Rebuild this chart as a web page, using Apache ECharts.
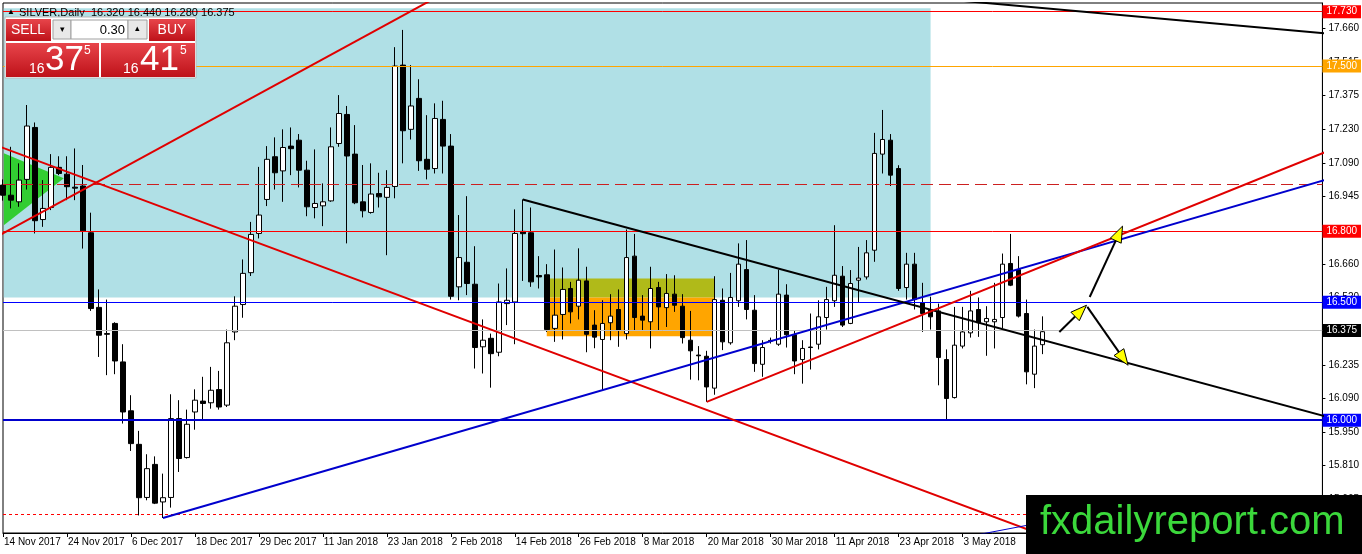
<!DOCTYPE html>
<html>
<head>
<meta charset="utf-8">
<title>SILVER,Daily</title>
<script src="https://cdn.jsdelivr.net/npm/echarts@6/dist/echarts.min.js"></script>
<style>
html,body{margin:0;padding:0;background:#fff;}
#chart{width:1362px;height:554px;}
</style>
</head>
<body>
<div id="chart"></div>
<script>
// daily bars (no 25 Dec / 1 Jan bars)
var dates = [
  '14 Nov 2017','15 Nov 2017','16 Nov 2017','17 Nov 2017','20 Nov 2017','21 Nov 2017','22 Nov 2017','23 Nov 2017','24 Nov 2017','27 Nov 2017','28 Nov 2017','29 Nov 2017','30 Nov 2017',
  '1 Dec 2017','4 Dec 2017','5 Dec 2017','6 Dec 2017','7 Dec 2017','8 Dec 2017','11 Dec 2017','12 Dec 2017','13 Dec 2017','14 Dec 2017','15 Dec 2017','18 Dec 2017','19 Dec 2017','20 Dec 2017','21 Dec 2017','22 Dec 2017','26 Dec 2017','27 Dec 2017','28 Dec 2017','29 Dec 2017',
  '2 Jan 2018','3 Jan 2018','4 Jan 2018','5 Jan 2018','8 Jan 2018','9 Jan 2018','10 Jan 2018','11 Jan 2018','12 Jan 2018','15 Jan 2018','16 Jan 2018','17 Jan 2018','18 Jan 2018','19 Jan 2018','22 Jan 2018','23 Jan 2018','24 Jan 2018','25 Jan 2018','26 Jan 2018','29 Jan 2018','30 Jan 2018','31 Jan 2018',
  '1 Feb 2018','2 Feb 2018','5 Feb 2018','6 Feb 2018','7 Feb 2018','8 Feb 2018','9 Feb 2018','12 Feb 2018','13 Feb 2018','14 Feb 2018','15 Feb 2018','16 Feb 2018','19 Feb 2018','20 Feb 2018','21 Feb 2018','22 Feb 2018','23 Feb 2018','26 Feb 2018','27 Feb 2018','28 Feb 2018',
  '1 Mar 2018','2 Mar 2018','5 Mar 2018','6 Mar 2018','7 Mar 2018','8 Mar 2018','9 Mar 2018','12 Mar 2018','13 Mar 2018','14 Mar 2018','15 Mar 2018','16 Mar 2018','19 Mar 2018','20 Mar 2018','21 Mar 2018','22 Mar 2018','23 Mar 2018','26 Mar 2018','27 Mar 2018','28 Mar 2018','29 Mar 2018','30 Mar 2018',
  '2 Apr 2018','3 Apr 2018','4 Apr 2018','5 Apr 2018','6 Apr 2018','9 Apr 2018','10 Apr 2018','11 Apr 2018','12 Apr 2018','13 Apr 2018','16 Apr 2018','17 Apr 2018','18 Apr 2018','19 Apr 2018','20 Apr 2018','23 Apr 2018','24 Apr 2018','25 Apr 2018','26 Apr 2018','27 Apr 2018','30 Apr 2018',
  '1 May 2018','2 May 2018','3 May 2018','4 May 2018','7 May 2018','8 May 2018','9 May 2018','10 May 2018','11 May 2018','14 May 2018','15 May 2018','16 May 2018','17 May 2018'
];
// empty chart shift on the right
var shiftDates = [
  '18 May 2018','21 May 2018','22 May 2018','23 May 2018','24 May 2018','25 May 2018','28 May 2018','29 May 2018','30 May 2018','31 May 2018',
  '1 Jun 2018','4 Jun 2018','5 Jun 2018','6 Jun 2018','7 Jun 2018','8 Jun 2018','11 Jun 2018','12 Jun 2018','13 Jun 2018','14 Jun 2018','15 Jun 2018',
  '18 Jun 2018','19 Jun 2018','20 Jun 2018','21 Jun 2018','22 Jun 2018','25 Jun 2018','26 Jun 2018','27 Jun 2018','28 Jun 2018','29 Jun 2018',
  '2 Jul 2018','3 Jul 2018','4 Jul 2018','5 Jul 2018'
];
// open, high, low, close
var bars = [
  [16.996,17.020,16.930,16.953],[16.953,17.158,16.897,16.932],[16.925,17.088,16.904,17.017],[17.020,17.335,16.977,17.246],
  [17.240,17.261,16.791,16.845],[16.850,17.017,16.819,16.897],[16.901,17.127,16.890,17.071],[17.071,17.118,17.038,17.045],
  [17.042,17.118,16.932,16.989],[16.987,17.151,16.932,16.983],[16.992,17.081,16.727,16.802],[16.794,16.879,16.463,16.473],
  [16.478,16.554,16.268,16.360],[16.367,16.511,16.191,16.364],[16.410,16.415,16.195,16.251],[16.247,16.322,15.986,16.035],
  [16.040,16.106,15.870,15.901],[15.898,15.955,15.597,15.672],[15.673,15.856,15.661,15.795],[15.813,15.847,15.645,15.649],
  [15.654,15.774,15.586,15.672],[15.673,16.110,15.630,16.007],[16.007,16.085,15.781,15.838],[15.842,16.045,15.838,15.983],
  [16.035,16.131,15.960,16.085],[16.081,16.184,16.000,16.071],[16.074,16.226,16.049,16.127],[16.130,16.209,16.045,16.056],
  [16.064,16.384,16.056,16.328],[16.374,16.525,16.339,16.483],[16.490,16.681,16.434,16.622],[16.625,16.840,16.611,16.787],
  [16.791,17.073,16.770,16.869],[16.935,17.161,16.907,17.105],[17.116,17.198,16.977,17.048],[17.056,17.232,16.925,17.155],
  [17.161,17.240,17.038,17.150],[17.186,17.212,16.986,17.059],[17.059,17.099,16.864,16.904],[16.901,17.147,16.855,16.918],
  [16.908,17.003,16.822,16.925],[16.929,17.240,16.925,17.158],[17.172,17.377,17.158,17.299],[17.295,17.331,16.749,17.119],
  [17.127,17.250,16.915,16.921],[16.925,17.081,16.859,16.887],[16.880,17.088,16.875,16.958],[16.960,17.048,16.901,16.946],
  [16.944,17.059,16.699,16.986],[16.990,17.580,16.940,17.500],[17.504,17.653,17.088,17.226],[17.232,17.504,17.189,17.331],
  [17.363,17.444,17.056,17.099],[17.105,17.292,17.020,17.063],[17.066,17.342,17.045,17.278],[17.274,17.353,17.045,17.161],
  [17.161,17.212,16.511,16.525],[16.565,16.869,16.508,16.689],[16.669,16.949,16.530,16.579],[16.576,16.737,16.219,16.308],
  [16.311,16.427,16.198,16.339],[16.347,16.367,16.138,16.282],[16.288,16.579,16.271,16.501],[16.494,16.643,16.403,16.508],
  [16.501,16.893,16.322,16.791],[16.800,16.935,16.590,16.790],[16.794,16.901,16.565,16.586],[16.613,16.695,16.558,16.607],
  [16.616,16.661,16.374,16.384],[16.389,16.723,16.332,16.445],[16.448,16.647,16.342,16.554],[16.558,16.586,16.410,16.459],
  [16.483,16.728,16.427,16.593],[16.590,16.650,16.288,16.364],[16.403,16.466,16.305,16.352],[16.342,16.508,16.127,16.410],
  [16.413,16.534,16.339,16.441],[16.469,16.554,16.311,16.381],[16.367,16.808,16.342,16.689],[16.695,16.789,16.381,16.435],
  [16.441,16.530,16.381,16.424],[16.417,16.650,16.304,16.558],[16.562,16.586,16.381,16.480],[16.477,16.619,16.395,16.537],
  [16.534,16.614,16.459,16.487],[16.483,16.534,16.325,16.350],[16.339,16.463,16.172,16.294],[16.276,16.314,16.169,16.273],
  [16.271,16.294,16.078,16.141],[16.136,16.610,16.108,16.511],[16.508,16.558,16.297,16.332],[16.328,16.624,16.320,16.520],
  [16.506,16.749,16.480,16.661],[16.638,16.763,16.427,16.469],[16.466,16.530,16.205,16.240],[16.237,16.339,16.184,16.308],
  [16.335,16.350,16.325,16.338],[16.322,16.638,16.315,16.534],[16.530,16.576,16.308,16.362],[16.362,16.381,16.195,16.251],
  [16.257,16.339,16.155,16.304],[16.310,16.452,16.215,16.308],[16.322,16.508,16.300,16.438],[16.435,16.565,16.384,16.511],
  [16.506,16.826,16.480,16.614],[16.610,16.653,16.395,16.403],[16.410,16.636,16.407,16.579],[16.593,16.734,16.501,16.602],
  [16.607,16.763,16.596,16.709],[16.720,17.217,16.671,17.130],[17.127,17.314,17.045,17.189],[17.186,17.212,16.992,17.038],
  [17.066,17.080,16.548,16.558],[16.562,16.709,16.511,16.661],[16.661,16.709,16.469,16.511],[16.497,16.582,16.374,16.452],
  [16.469,16.523,16.384,16.438],[16.463,16.494,16.148,16.266],[16.257,16.300,16.003,16.092],[16.096,16.480,16.092,16.318],
  [16.314,16.480,16.304,16.374],[16.370,16.548,16.350,16.463],[16.469,16.520,16.353,16.413],[16.417,16.483,16.273,16.431],
  [16.417,16.582,16.304,16.427],[16.435,16.706,16.390,16.661],[16.664,16.789,16.568,16.572],[16.638,16.695,16.435,16.441],
  [16.452,16.511,16.152,16.205],[16.195,16.384,16.136,16.314],[16.320,16.440,16.280,16.375]
];
// price scale tick labels (MT4 rounds to 0.005)
var priceTicks = [15.665,15.810,15.950,16.090,16.235,16.375,16.520,16.660,16.800,16.945,17.090,17.230,17.375,17.515,17.660];

// horizontal levels
var levels = [17.730, 17.500, 16.995, 16.800, 16.500, 16.375, 16.000, 15.600];

// trend lines, [bar index, price] pairs
var redRise = [[-1, 16.773], [60, 17.898]];
var redFall = [[-1, 17.166], [140, 15.388]];
var blueRise = [[20, 15.586], [170, 17.064]];
var blackFall = [[65, 16.935], [170, 15.974]];
var redChannel = [[88, 16.078], [170, 17.199]];
var blackTop = [[120, 17.776], [170, 17.624]];
var blueLow = [[118, 15.490], [135, 15.600]];

// rectangles: x1, price1, x2, price2
var zones = [
  [0.1, 17.745, 116, 16.520],
  [68, 16.600, 89, 16.520],
  [68, 16.520, 89, 16.356]
];
var wedge = [[0.1, 17.131], [7.6, 17.025], [0.1, 16.826]];

// arrows: x1, price1, x2, price2
var arrows = [
  [132.1, 16.374, 135.5, 16.487],
  [135.9, 16.522, 140.0, 16.822],
  [135.6, 16.480, 140.7, 16.233]
];

var FONT = 'Liberation Sans, Arial, sans-serif';
var categories = dates.concat(shiftDates);
var candleData = bars.map(function (b) { return [b[0], b[3], b[2], b[1]]; });

var zoneColors = ['#B0E0E6', '#B0BA19', '#FFA500'];

var levelStyle = [
  {color: '#FF0000', width: 1, type: 'solid', box: '#FF0000'},
  {color: '#FFA500', width: 1, type: 'solid', box: '#FFA500'},
  {color: '#CC2020', width: 1, type: [12, 6], box: null},
  {color: '#FF0000', width: 1, type: 'solid', box: '#FF0000'},
  {color: '#0000FF', width: 1, type: 'solid', box: '#0000FF'},
  {color: '#C0C0C0', width: 1, type: 'solid', box: '#000000'},
  {color: '#0000CD', width: 2, type: 'solid', box: '#0000FF'},
  {color: '#FF0000', width: 1, type: [3, 3], box: null}
];

var markData = levels.map(function (v, i) {
  var s = levelStyle[i];
  return {
    yAxis: v,
    lineStyle: {color: s.color, width: s.width, type: s.type},
    label: s.box ? {
      show: true, position: 'end', distance: 0,
      formatter: v.toFixed(3),
      color: '#fff', backgroundColor: s.box,
      padding: [2, 4, 1, 4], fontSize: 10, fontFamily: FONT
    } : {show: false}
  };
});

function tickLabel(v) {
  for (var i = 0; i < priceTicks.length; i++) {
    if (Math.abs(priceTicks[i] - v) < 0.01) return priceTicks[i].toFixed(3);
  }
  return '';
}

function trend(points, color, width) {
  return {
    type: 'line', xAxisIndex: 1, yAxisIndex: 0, data: points,
    showSymbol: false, symbol: 'none', silent: true, z: 5, clip: true,
    lineStyle: {color: color, width: width}
  };
}

function renderZone(params, api) {
  var a = api.coord([api.value(0), api.value(1)]);
  var b = api.coord([api.value(2), api.value(3)]);
  var cs = params.coordSys;
  var shape = echarts.graphic.clipRectByRect(
    {x: a[0], y: a[1], width: b[0] - a[0], height: b[1] - a[1]},
    {x: cs.x, y: cs.y, width: cs.width, height: cs.height});
  return shape && {type: 'rect', shape: shape, style: {fill: zoneColors[params.dataIndex]}};
}

function renderWedge(params, api) {
  var pts = wedge.map(function (p) { return api.coord(p); });
  return {type: 'polygon', shape: {points: pts}, style: {fill: '#32CD32'}};
}

function renderArrow(params, api) {
  var a = api.coord([api.value(0), api.value(1)]);
  var b = api.coord([api.value(2), api.value(3)]);
  var dx = b[0] - a[0], dy = b[1] - a[1];
  var len = Math.sqrt(dx * dx + dy * dy), ux = dx / len, uy = dy / len;
  var L = 16, W = 6;
  var base = [b[0] - ux * L, b[1] - uy * L];
  return {
    type: 'group',
    children: [
      {type: 'line', shape: {x1: a[0], y1: a[1], x2: base[0], y2: base[1]}, style: {stroke: '#000', lineWidth: 2}},
      {type: 'polygon', shape: {points: [b, [base[0] - uy * W, base[1] + ux * W], [base[0] + uy * W, base[1] - ux * W]]},
       style: {fill: '#FFFF00', stroke: '#000', lineWidth: 1}}
    ]
  };
}

var redGrad = function () {
  return new echarts.graphic.LinearGradient(0, 0, 0, 1, [
    {offset: 0, color: '#E8454B'}, {offset: 1, color: '#BE1219'}
  ]);
};

var panel = [
  {type: 'text', x: 7, y: 8, z: 90, style: {text: '\u25B2', font: '8px ' + FONT, fill: '#000'}},
  {type: 'text', x: 19, y: 7, z: 90, style: {text: 'SILVER,Daily  16.320 16.440 16.280 16.375', font: '11px ' + FONT, fill: '#000'}},
  {type: 'rect', z: 100, shape: {x: 5, y: 17, width: 191, height: 61}, style: {fill: '#fff', stroke: '#B8B8B8', lineWidth: 1}},
  {type: 'rect', z: 101, shape: {x: 6, y: 19, width: 45, height: 22}, style: {fill: redGrad()}},
  {type: 'text', z: 102, x: 28, y: 30, style: {text: 'SELL', font: '14px ' + FONT, fill: '#fff', align: 'center', verticalAlign: 'middle'}},
  {type: 'rect', z: 101, shape: {x: 53, y: 20, width: 18, height: 19}, style: {fill: '#E8E8E8', stroke: '#A0A0A0', lineWidth: 1}},
  {type: 'text', z: 102, x: 62, y: 30, style: {text: '\u25BE', font: '9px ' + FONT, fill: '#000', align: 'center', verticalAlign: 'middle'}},
  {type: 'rect', z: 101, shape: {x: 71, y: 20, width: 57, height: 19}, style: {fill: '#fff', stroke: '#A0A0A0', lineWidth: 1}},
  {type: 'text', z: 102, x: 125, y: 30, style: {text: '0.30', font: '13px ' + FONT, fill: '#000', align: 'right', verticalAlign: 'middle'}},
  {type: 'rect', z: 101, shape: {x: 128, y: 20, width: 19, height: 19}, style: {fill: '#E8E8E8', stroke: '#A0A0A0', lineWidth: 1}},
  {type: 'text', z: 102, x: 137.5, y: 29, style: {text: '\u25B4', font: '9px ' + FONT, fill: '#000', align: 'center', verticalAlign: 'middle'}},
  {type: 'rect', z: 101, shape: {x: 149, y: 19, width: 46, height: 22}, style: {fill: redGrad()}},
  {type: 'text', z: 102, x: 172, y: 30, style: {text: 'BUY', font: '14px ' + FONT, fill: '#fff', align: 'center', verticalAlign: 'middle'}},
  {type: 'rect', z: 101, shape: {x: 6, y: 43, width: 93, height: 34}, style: {fill: redGrad()}},
  {type: 'rect', z: 101, shape: {x: 101, y: 43, width: 94, height: 34}, style: {fill: redGrad()}},
  {type: 'text', z: 102, x: 29, y: 62, style: {text: '16', font: '14px ' + FONT, fill: '#fff'}},
  {type: 'text', z: 102, x: 45, y: 43, style: {text: '37', font: '35px ' + FONT, fill: '#fff'}},
  {type: 'text', z: 102, x: 84, y: 45, style: {text: '5', font: '12px ' + FONT, fill: '#fff'}},
  {type: 'text', z: 102, x: 123, y: 62, style: {text: '16', font: '14px ' + FONT, fill: '#fff'}},
  {type: 'text', z: 102, x: 140, y: 43, style: {text: '41', font: '35px ' + FONT, fill: '#fff'}},
  {type: 'text', z: 102, x: 180, y: 45, style: {text: '5', font: '12px ' + FONT, fill: '#fff'}},
  // watermark
  {type: 'rect', z: 110, shape: {x: 1026, y: 495, width: 336, height: 59}, style: {fill: '#000'}},
  {type: 'text', z: 111, x: 1040, y: 523, style: {text: 'fxdailyreport.com', font: '40px ' + FONT, fill: '#3BD83B', verticalAlign: 'middle'}}
];

var chart = echarts.init(document.getElementById('chart'));
chart.setOption({
  animation: false,
  backgroundColor: '#fff',
  grid: {left: 3, right: 39, top: 3, bottom: 21, show: true, borderColor: '#000', borderWidth: 1, backgroundColor: '#fff'},
  xAxis: [{
    type: 'category', data: categories, boundaryGap: false,
    axisLine: {onZero: false, lineStyle: {color: '#000'}},
    axisTick: {interval: 7, length: 4, lineStyle: {color: '#000'}},
    axisLabel: {interval: 7, align: 'left', margin: 4, color: '#000', fontSize: 10, fontFamily: FONT, padding: [0, 0, 0, 1], showMaxLabel: false},
    splitLine: {show: false}
  }, {
    type: 'value', min: 0, max: categories.length - 1, show: false,
    axisLine: {onZero: false}
  }],
  yAxis: {
    type: 'value', position: 'right', min: 15.5225, max: 17.767, interval: 0.1425,
    axisLine: {show: true, onZero: false, lineStyle: {color: '#000'}},
    axisTick: {show: true, length: 3, lineStyle: {color: '#000'}},
    axisLabel: {margin: 6, color: '#000', fontSize: 10, fontFamily: FONT, showMinLabel: false, showMaxLabel: false,
      formatter: tickLabel},
    splitLine: {show: false}
  },
  graphic: panel,
  series: [
    {type: 'custom', xAxisIndex: 1, yAxisIndex: 0, data: zones, renderItem: renderZone, z: 1, silent: true,
     encode: {x: [0, 2], y: [1, 3]}},
    {type: 'custom', xAxisIndex: 1, yAxisIndex: 0, data: [wedge[1]], renderItem: renderWedge, z: 1, silent: true},
    {
      type: 'candlestick', xAxisIndex: 0, yAxisIndex: 0, data: candleData, barWidth: 5, z: 3,
      itemStyle: {color: '#FFFFFF', color0: '#000000', borderColor: '#000000', borderColor0: '#000000', borderWidth: 1},
      markLine: {symbol: 'none', silent: true, animation: false, data: markData}
    },
    trend(redRise, '#E00000', 2),
    trend(redFall, '#E00000', 2),
    trend(blueRise, '#0000CD', 2),
    trend(blackFall, '#000000', 2),
    trend(redChannel, '#E00000', 2),
    trend(blackTop, '#000000', 2),
    trend(blueLow, '#0000CD', 1),
    {type: 'custom', xAxisIndex: 1, yAxisIndex: 0, data: arrows, renderItem: renderArrow, z: 6, silent: true}
  ]
});
</script>
</body>
</html>
